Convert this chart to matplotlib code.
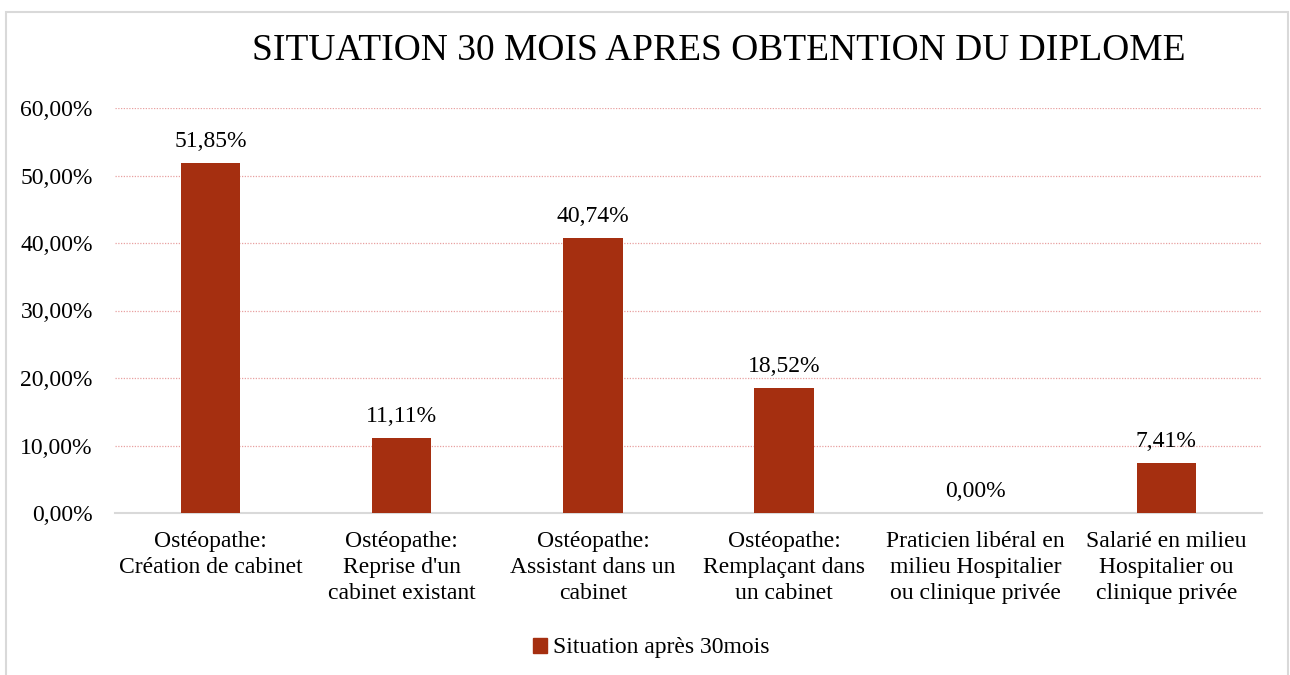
import matplotlib.pyplot as plt
from matplotlib.patches import Rectangle
from matplotlib.ticker import FuncFormatter

categories = ["Ostéopathe:\nCréation de cabinet",
              "Ostéopathe:\nReprise d'un\ncabinet existant",
              "Ostéopathe:\nAssistant dans un\ncabinet",
              "Ostéopathe:\nRemplaçant dans\nun cabinet",
              "Praticien libéral en\nmilieu Hospitalier\nou clinique privée",
              "Salarié en milieu\nHospitalier ou\nclinique privée"]
values = [51.85, 11.11, 40.74, 18.52, 0.00, 7.41]
series_name = "Situation après 30mois"
title = "SITUATION 30 MOIS APRES OBTENTION DU DIPLOME"

plt.rcParams['font.family'] = ['Liberation Serif', 'DejaVu Serif']
W, H = 1290, 675
fig = plt.figure(figsize=(W/100, H/100), dpi=100)
ax = fig.add_axes([115/W, 1-513/H, (1262-115)/W, (513-108)/H])

FS = 17
bar_color = '#A52F10'
x = range(len(categories))
ax.bar(x, values, width=0.31, color=bar_color, label=series_name, zorder=3)
ax.set_xlim(-0.5, len(categories)-0.5)
ax.set_ylim(0, 60)
ax.set_yticks(range(0, 61, 10))
ax.yaxis.set_major_formatter(FuncFormatter(lambda v, p: f"{v:.2f}".replace('.', ',') + "%"))
ax.set_xticks(list(x))
ax.set_xticklabels(categories, fontsize=FS, linespacing=1.3)
ax.tick_params(axis='y', labelsize=FS, length=0, pad=16)
ax.tick_params(axis='x', length=0, pad=13)

ax.grid(axis='y', color='#E8A0A0', linestyle=(0, (1, 1.2)), linewidth=0.9, zorder=0)
for s in ['top', 'right', 'left']:
    ax.spines[s].set_visible(False)
ax.spines['bottom'].set_color('#D9D9D9')
ax.spines['bottom'].set_linewidth(1.5)

for xi, v in zip(x, values):
    ax.annotate(f"{v:.2f}".replace('.', ',') + "%", (xi, v), xytext=(0, 8),
                textcoords='offset points', ha='center', va='bottom', fontsize=FS)

fig.text(719/W, 1-51/H, title, ha='center', va='center', fontsize=27)

fig.legend(handles=[Rectangle((0, 0), 1, 1, color=bar_color)], labels=[series_name],
           loc='center', bbox_to_anchor=(651/W, 1-648/H), frameon=False,
           fontsize=FS, handlelength=0.6, handleheight=0.6, handletextpad=0.25)

fig.add_artist(Rectangle((6/W, -0.05), (1288-6)/W, 1-12/H+0.05, transform=fig.transFigure,
                         fill=False, edgecolor='#D9D9D9', linewidth=1.5))

fig.savefig('out.png', dpi=100)
